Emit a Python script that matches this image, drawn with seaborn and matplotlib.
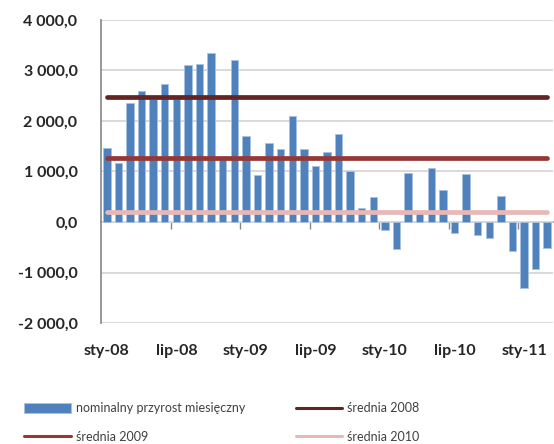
import numpy as np
import pandas as pd
import matplotlib
matplotlib.use("Agg")
import matplotlib.pyplot as plt
import seaborn as sns
from matplotlib.ticker import FuncFormatter, FixedLocator

# Monthly nominal increase, Jan 2008 - Mar 2011
months = [f"{m}-{y}" for y in ["08", "09", "10"] for m in
          ["sty", "lut", "mar", "kwi", "maj", "cze", "lip", "sie", "wrz", "paz", "lis", "gru"]]
months += ["sty-11", "lut-11", "mar-11"]
values = [1460, 1165, 2355, 2585, 2440, 2730, 2440, 3100, 3135, 3355, 1250, 3205,
          1695, 925, 1560, 1440, 2090, 1440, 1100, 1395, 1740, 1000, 270, 500,
          -160, -535, 970, 200, 1070, 630, -220, 950, -265, -315, 520, -580,
          -1300, -930, -510]

# Yearly averages
avg_2008 = 2470
avg_2009 = 1275
avg_2010 = 205

tick_labels = ["sty-08", "lip-08", "sty-09", "lip-09", "sty-10", "lip-10", "sty-11"]

bar_color = "#4F81BD"
c2008 = "#632523"
c2009 = "#953735"
c2010 = "#E6B9B8"

sns.set_style("white")
plt.rcParams["font.family"] = ["Lato", "DejaVu Sans"]

df = pd.DataFrame({"miesiac": months, "przyrost": values})
n = len(months)
idx = np.arange(n)

fig = plt.figure(figsize=(5.54, 4.44), dpi=100)
ax = fig.add_axes([101 / 554, 121 / 444, 452 / 554, 303 / 444])

sns.barplot(data=df, x="miesiac", y="przyrost", color=bar_color, width=0.64,
            saturation=1, edgecolor="#A9C2E0", linewidth=0.6, ax=ax, zorder=2)

lines = {}
for val, col, lab in [(avg_2008, c2008, "średnia 2008"),
                      (avg_2009, c2009, "średnia 2009"),
                      (avg_2010, c2010, "średnia 2010")]:
    ln, = ax.plot(idx, np.full(n, val), color=col, lw=3.4,
                  solid_capstyle="round", zorder=3, label=lab)
    lines[lab] = ln

ax.set_xlim(-0.5, n - 0.5)
ax.set_ylim(-2000, 4000)
ax.set_yticks(np.arange(-2000, 4001, 1000))
ax.yaxis.set_major_formatter(FuncFormatter(
    lambda v, p: f"{v:,.1f}".replace(",", " ").replace(".", ",")))
ax.grid(axis="y", color="#D9D9D9", lw=1.4, zorder=0)
ax.grid(axis="x", visible=False)
ax.set_axisbelow(True)

for s in ["top", "right", "bottom"]:
    ax.spines[s].set_visible(False)
ax.spines["left"].set_color("#868686")
ax.spines["left"].set_linewidth(1.2)
ax.tick_params(axis="y", direction="out", length=5, width=1, color="#868686",
               pad=12, labelsize=11.5, labelcolor="#262626")
for t in ax.get_yticklabels():
    t.set_fontweight("bold")

# category labels every six months, below the plot
ax.xaxis.set_major_locator(FixedLocator(np.arange(0, n, 6)))
ax.set_xticklabels(tick_labels)
ax.tick_params(axis="x", length=0, pad=15, labelsize=11.5, labelcolor="#262626")
for t in ax.get_xticklabels():
    t.set_fontweight("bold")
ax.set_xlabel("")
ax.set_ylabel("")

# zero line with category boundary ticks
zero = ax.secondary_xaxis(2000 / 6000)
zero.spines["bottom"].set_color("#868686")
zero.spines["bottom"].set_linewidth(1.2)
zero.set_xticks(np.arange(5.5, n, 6))
zero.tick_params(axis="x", direction="out", length=5, width=1, color="#868686",
                 labelbottom=False)

bar_handle = ax.patches[0]
handles = [bar_handle, lines["średnia 2009"], lines["średnia 2008"], lines["średnia 2010"]]
labels = ["nominalny przyrost miesięczny", "średnia 2009", "średnia 2008", "średnia 2010"]
leg = fig.legend(handles, labels, ncol=2, loc="upper left",
                 bbox_to_anchor=(18 / 554, 1 - 396 / 444), frameon=False,
                 fontsize=9, labelcolor="#404040", handlelength=3.7,
                 handleheight=0.8, labelspacing=1.3, columnspacing=4.1,
                 handletextpad=0.4, borderpad=0)
for h in leg.legend_handles:
    if hasattr(h, "set_linewidth") and not hasattr(h, "get_width"):
        h.set_linewidth(2.2)

fig.savefig("out.png", dpi=100)
